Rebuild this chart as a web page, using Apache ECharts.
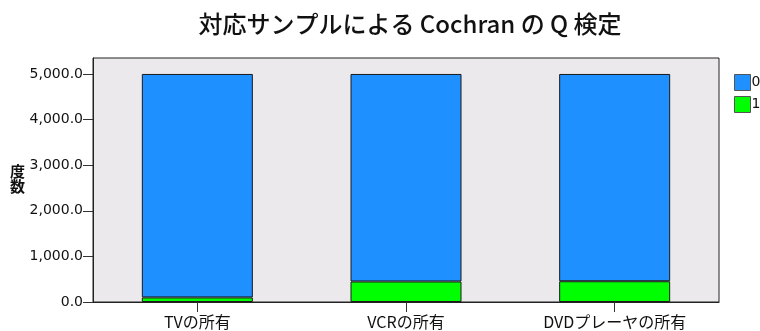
<!DOCTYPE html>
<html>
<head>
<meta charset="utf-8">
<script src="https://cdn.jsdelivr.net/npm/echarts@6/dist/echarts.min.js"></script>
<style>
  html, body { margin: 0; padding: 0; background: #fff; }
  #chart { width: 760px; height: 331px; }
</style>
</head>
<body>
<div id="chart"></div>
<script>
// Cochran's Q test: counts of 0 / 1 responses per variable
const categories = ['TVの所有', 'VCRの所有', 'DVDプレーヤの所有'];
const seriesNames = ['0', '1'];
const valuesZero = [4900, 4550, 4545];
const valuesOne = [100, 450, 455];
const yTicks = [0, 1000, 2000, 3000, 4000, 5000];

const FONT = '"DejaVu Sans", "Noto Sans CJK JP", sans-serif';
const CJK = '"Noto Sans CJK JP", "DejaVu Sans", sans-serif';

const chart = echarts.init(document.getElementById('chart'), null, { renderer: 'canvas' });

function fmt(v) {
  return v.toLocaleString('en-US', { minimumFractionDigits: 1, maximumFractionDigits: 1 });
}

chart.setOption({
  animation: false,
  backgroundColor: '#ffffff',
  title: {
    text: '対応サンプルによる Cochran の Q 検定',
    left: 405,
    textAlign: 'center',
    top: 7,
    textStyle: { fontFamily: CJK, fontSize: 24, fontWeight: 500, color: '#111' }
  },
  legend: {
    orient: 'vertical',
    left: 729,
    top: 69,
    itemWidth: 16,
    itemHeight: 16,
    itemGap: 5,
    icon: 'rect',
    data: seriesNames,
    textStyle: { fontFamily: FONT, fontSize: 14, color: '#111', padding: [0, 0, 0, -4] },
    itemStyle: { borderColor: '#555', borderWidth: 1 }
  },
  grid: {
    left: 93, right: 41, top: 58, bottom: 29,
    show: true,
    backgroundColor: '#ECE9ED',
    borderColor: '#222',
    borderWidth: 1
  },
  graphic: [{
    type: 'text',
    left: 10,
    top: 164,
    style: { text: '度\n数', font: 'bold 15px ' + CJK, fill: '#111', lineHeight: 15 }
  }],
  xAxis: {
    type: 'category',
    data: categories,
    axisLine: { show: true, lineStyle: { color: '#222', width: 1 } },
    axisTick: { show: true, alignWithLabel: true, length: 10, lineStyle: { color: '#333' } },
    axisLabel: { fontFamily: CJK, fontSize: 16, color: '#111', margin: 12 },
    splitLine: { show: false }
  },
  yAxis: {
    type: 'value',
    min: 0,
    max: 5350,
    interval: 1000,
    axisLine: { show: true, lineStyle: { color: '#222', width: 1 } },
    axisTick: { show: true, length: 10, lineStyle: { color: '#333' }, customValues: yTicks },
    axisLabel: { fontFamily: FONT, fontSize: 14, color: '#111', margin: 10, customValues: yTicks, formatter: fmt },
    splitLine: { show: false }
  },
  series: [
    {
      // stacked first so it sits at the base of each bar
      name: seriesNames[1],
      type: 'bar',
      stack: 'total',
      data: valuesOne,
      barWidth: 111,
      itemStyle: { color: '#00FF00', borderColor: '#1a1a1a', borderWidth: 1 }
    },
    {
      name: seriesNames[0],
      type: 'bar',
      stack: 'total',
      data: valuesZero,
      barWidth: 111,
      itemStyle: { color: '#1E90FF', borderColor: '#1a1a1a', borderWidth: 1 }
    }
  ]
});
</script>
</body>
</html>
